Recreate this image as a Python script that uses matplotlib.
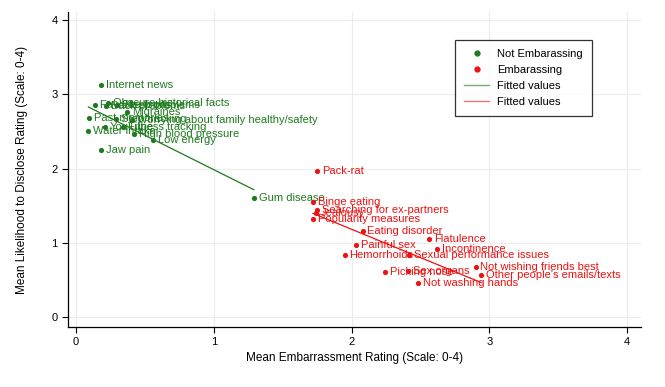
import matplotlib
matplotlib.use("Agg")
import matplotlib.pyplot as plt
import numpy as np
from matplotlib.lines import Line2D

plt.rcParams['font.family'] = ['Liberation Sans', 'DejaVu Sans']

# Not embarrassing topics
ne_labels = ["Internet news", "Favorite foods", "Obscure historical facts", "Back problems",
             "Sleep problems", "Migraines", "Past memories", "Step tracking",
             "Worrying about family healthy/safety", "Water intake", "YouTube", "Fitness tracking",
             "High blood pressure", "Low energy", "Jaw pain", "Gum disease"]
ne_x = [0.18, 0.14, 0.235, 0.22, 0.30, 0.37, 0.094, 0.29, 0.41, 0.09, 0.21, 0.34, 0.42, 0.557, 0.18, 1.29]
ne_y = [3.12, 2.86, 2.89, 2.84, 2.86, 2.76, 2.68, 2.67, 2.65, 2.51, 2.56, 2.56, 2.47, 2.38, 2.25, 1.61]

# Embarrassing topics
e_labels = ["Pack-rat", "Binge eating", "Searching for ex-partners", "Jealousy",
            "Popularity measures", "Eating disorder", "Flatulence", "Incontinence",
            "Painful sex", "Hemorrhoids", "Sexual performance issues", "Picking nose",
            "Sex organs", "Not washing hands", "Not wishing friends best",
            "Other people's emails/texts"]
e_x = [1.75, 1.72, 1.75, 1.74, 1.72, 2.08, 2.56, 2.62, 2.03, 1.95, 2.42, 2.24, 2.41, 2.48, 2.90, 2.94]
e_y = [1.97, 1.55, 1.44, 1.40, 1.32, 1.16, 1.05, 0.92, 0.97, 0.84, 0.84, 0.60, 0.62, 0.46, 0.67, 0.57]

x_ticks = [0, 1, 2, 3, 4]
y_ticks = [0, 1, 2, 3, 4]

green = '#1f7a1f'
red = '#ee1111'

fig = plt.figure(figsize=(6.65, 3.87), dpi=100)
ax = fig.add_axes([68/665, 60/387, (641-68)/665, (327-12)/387])

ax.set_xlim(-0.058, 4.10)
ax.set_ylim(-0.135, 4.11)

ax.set_xticks(x_ticks)
ax.set_yticks(y_ticks)
ax.grid(True, color='#ececec', linewidth=0.8)
ax.set_axisbelow(True)
for s in ['top', 'right']:
    ax.spines[s].set_visible(False)
for s in ['left', 'bottom']:
    ax.spines[s].set_linewidth(0.9)
ax.tick_params(direction='out', length=4, width=0.8, labelsize=8, colors='black')

ax.scatter(ne_x, ne_y, s=14, color=green, zorder=3, linewidths=0)
ax.scatter(e_x, e_y, s=14, color=red, zorder=3, linewidths=0)

for lab, x, y in zip(ne_labels, ne_x, ne_y):
    ax.annotate(lab, (x, y), xytext=(3.5, 0), textcoords='offset points',
                va='center', ha='left', fontsize=8, color=green)
for lab, x, y in zip(e_labels, e_x, e_y):
    ax.annotate(lab, (x, y), xytext=(3.5, 0), textcoords='offset points',
                va='center', ha='left', fontsize=8, color=red)

# fitted lines
for xs, ys, c in [(ne_x, ne_y, green), (e_x, e_y, red)]:
    xs = np.array(xs); ys = np.array(ys)
    b, a = np.polyfit(xs, ys, 1)
    xx = np.array([xs.min(), xs.max()])
    ax.plot(xx, a + b * xx, color=c, linewidth=0.9, zorder=2)

ax.set_xlabel("Mean Embarrassment Rating (Scale: 0-4)", fontsize=8.5, labelpad=3)
ax.set_ylabel("Mean Likelihood to Disclose Rating (Scale: 0-4)", fontsize=8.5, labelpad=17)

handles = [
    Line2D([], [], marker='o', linestyle='none', color=green, markersize=3.5),
    Line2D([], [], marker='o', linestyle='none', color=red, markersize=3.5),
    Line2D([], [], color='#7aad7a', linewidth=1),
    Line2D([], [], color='#ee7777', linewidth=1),
]
leg = ax.legend(handles, ["Not Embarassing", "Embarassing", "Fitted values", "Fitted values"],
                loc='upper left', bbox_to_anchor=((455-68)/573, (327-40)/315),
                fontsize=8, frameon=True, fancybox=False, edgecolor='black',
                handlelength=2.3, borderpad=0.8, labelspacing=0.55, handletextpad=0.7,
                borderaxespad=0)
leg.get_frame().set_linewidth(0.9)

fig.savefig("out.png", dpi=100, facecolor='white')
